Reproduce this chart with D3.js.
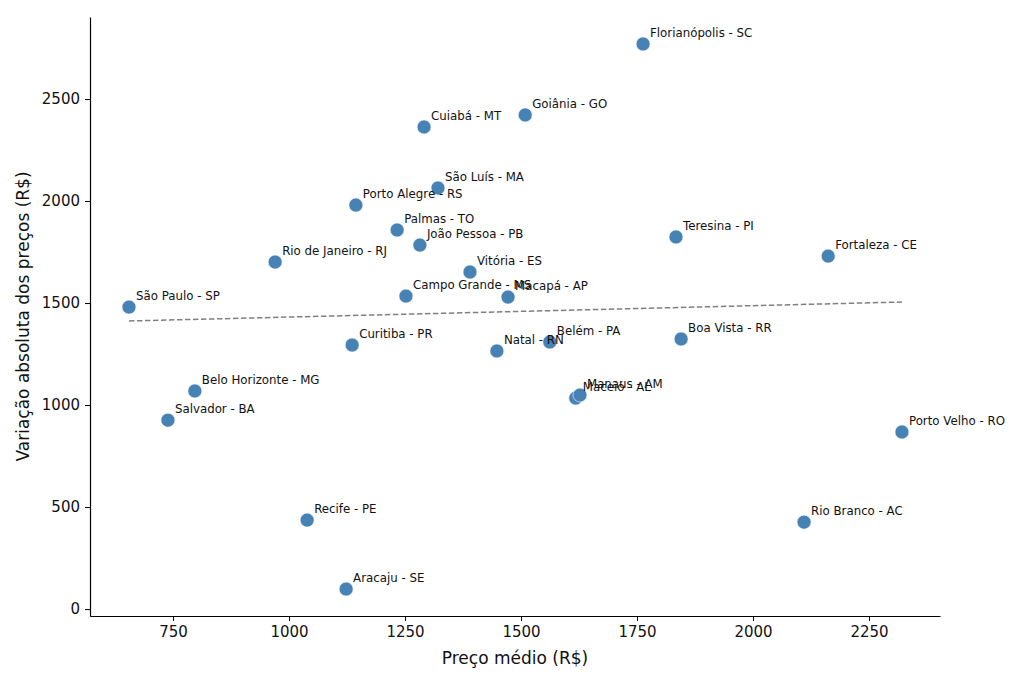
<!DOCTYPE html>
<html>
<head>
<meta charset="utf-8">
<script src="https://cdn.jsdelivr.net/npm/d3@7"></script>
<style>
  body { margin: 0; background: #fff; }
  svg { font-family: "DejaVu Sans", sans-serif; }
</style>
</head>
<body>
<svg id="chart" width="1024" height="683"></svg>
<script>
// capitals: average price (x) vs absolute price change (y)
const cities = ["São Paulo - SP", "Salvador - BA", "Belo Horizonte - MG", "Rio de Janeiro - RJ",
  "Recife - PE", "Aracaju - SE", "Curitiba - PR", "Porto Alegre - RS", "Palmas - TO",
  "Campo Grande - MS", "João Pessoa - PB", "Cuiabá - MT", "São Luís - MA", "Vitória - ES",
  "Natal - RN", "Macapá - AP", "Goiânia - GO", "Belém - PA", "Maceió - AL", "Manaus - AM",
  "Florianópolis - SC", "Teresina - PI", "Boa Vista - RR", "Rio Branco - AC",
  "Fortaleza - CE", "Porto Velho - RO"];
const precoMedio = [655, 739, 797, 970, 1039, 1123, 1136, 1144, 1233, 1252, 1282, 1291, 1321,
  1390, 1448, 1472, 1509, 1562, 1618, 1627, 1763, 1834, 1845, 2110, 2162, 2321];
const variacao = [1480, 926, 1069, 1701, 436, 98, 1294, 1980, 1858, 1534, 1784, 2363, 2064,
  1652, 1265, 1529, 2422, 1309, 1034, 1049, 2770, 1824, 1324, 426, 1730, 868];

// trend line endpoints
const trendX = [655, 2321];
const trendY = [1412, 1505];

const xTicks = [750, 1000, 1250, 1500, 1750, 2000, 2250];
const yTicks = [0, 500, 1000, 1500, 2000, 2500];

const svg = d3.select("#chart");
const mLeft = 90, mRight = 940, mTop = 17, mBottom = 616;

const x = d3.scaleLinear().domain([571, 2403]).range([mLeft, mRight]);
const y = d3.scaleLinear().domain([-34, 2902]).range([mBottom, mTop]);

const points = cities.map((c, i) => ({ name: c, px: precoMedio[i], vy: variacao[i] }));

// axes
const xAxis = svg.append("g")
  .attr("transform", `translate(0,${mBottom})`)
  .call(d3.axisBottom(x).tickValues(xTicks).tickFormat(d3.format("d"))
    .tickSize(5).tickPadding(5).tickSizeOuter(0));
const yAxis = svg.append("g")
  .attr("transform", `translate(${mLeft},0)`)
  .call(d3.axisLeft(y).tickValues(yTicks).tickFormat(d3.format("d"))
    .tickSize(5).tickPadding(5).tickSizeOuter(0));

[xAxis, yAxis].forEach(a => {
  a.select(".domain").attr("stroke", "#000").attr("stroke-width", 1.2);
  a.selectAll(".tick line").attr("stroke", "#000").attr("stroke-width", 1);
  a.selectAll(".tick text").attr("font-size", "15px").attr("fill", "#111")
    .attr("font-family", "DejaVu Sans, sans-serif");
});

// trend line
svg.append("line")
  .attr("x1", x(trendX[0])).attr("y1", y(trendY[0]))
  .attr("x2", x(trendX[1])).attr("y2", y(trendY[1]))
  .attr("stroke", "#808080")
  .attr("stroke-width", 1.5)
  .attr("stroke-dasharray", "5.5,2.5");

// points
svg.append("g").selectAll("circle")
  .data(points)
  .enter().append("circle")
  .attr("cx", d => x(d.px))
  .attr("cy", d => y(d.vy))
  .attr("r", 7)
  .attr("fill", "#4682b4")
  .attr("stroke", "#fff")
  .attr("stroke-width", 0.6);

// labels
svg.append("g").selectAll("text")
  .data(points)
  .enter().append("text")
  .attr("x", d => x(d.px) + 7)
  .attr("y", d => y(d.vy) - 7)
  .attr("font-size", "11.8px")
  .attr("fill", "#111")
  .text(d => d.name);

// axis titles
svg.append("text")
  .attr("x", (mLeft + mRight) / 2)
  .attr("y", 664)
  .attr("text-anchor", "middle")
  .attr("font-size", "17px")
  .attr("fill", "#111")
  .text("Preço médio (R$)");

svg.append("text")
  .attr("transform", `translate(29,${(mTop + mBottom) / 2}) rotate(-90)`)
  .attr("text-anchor", "middle")
  .attr("font-size", "17px")
  .attr("fill", "#111")
  .text("Variação absoluta dos preços (R$)");
</script>
</body>
</html>
